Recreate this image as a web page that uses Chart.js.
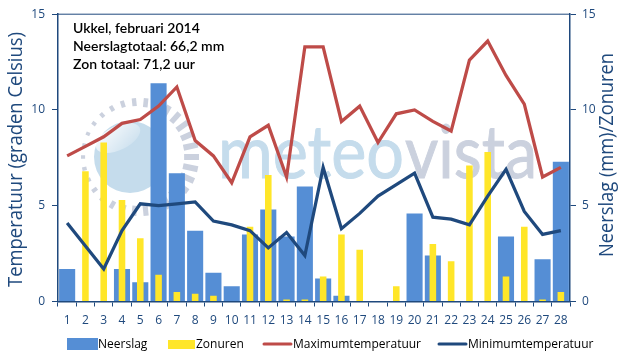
<!DOCTYPE html>
<html>
<head>
<meta charset="utf-8">
<title>Ukkel, februari 2014</title>
<script src="https://cdn.jsdelivr.net/npm/chart.js@4"></script>
<style>
  html, body { margin: 0; padding: 0; background: #fff; }
  #wrap { position: relative; width: 640px; height: 360px; }
</style>
</head>
<body>
<div id="wrap"><canvas id="grafiek" width="640" height="360"></canvas></div>
<script>
const dagen = [1,2,3,4,5,6,7,8,9,10,11,12,13,14,15,16,17,18,19,20,21,22,23,24,25,26,27,28];
const neerslag = [1.7,0,0,1.7,1.0,11.4,6.7,3.7,1.5,0.8,3.5,4.8,3.4,6.0,1.2,0.3,0,0,0,4.6,2.4,0,0,0,3.4,0,2.2,7.3];
const zonuren = [0,6.8,8.3,5.3,3.3,1.4,0.5,0.4,0.3,0,3.9,6.6,0.1,0.1,1.3,3.5,2.7,0,0.8,0,3.0,2.1,7.1,7.8,1.3,3.9,0.1,0.5];
const maxTemp = [7.6,8.1,8.6,9.3,9.5,10.2,11.2,8.4,7.6,6.2,8.6,9.2,6.5,13.3,13.3,9.4,10.2,8.3,9.8,10.0,9.4,8.9,12.6,13.6,11.8,10.3,6.5,7.0];
const minTemp = [4.1,2.9,1.7,3.7,5.1,5.0,5.1,5.2,4.2,4.0,3.7,2.8,3.6,2.4,7.0,3.8,4.6,5.5,6.1,6.7,4.4,4.3,4.0,5.5,6.9,4.7,3.5,3.7];
const infoRegels = ['Ukkel, februari 2014', 'Neerslagtotaal: 66,2 mm', 'Zon totaal: 71,2 uur'];

const navy = '#1F497D';
const blauw = '#558ED5';
const geel = '#FFE629';
const rood = '#BE4B48';
const tekstFont = '"Open Sans", sans-serif';

// tekst horizontaal samendrukken tot de gevraagde breedte
function tekstOpBreedte(ctx, tekst, breedte, lijn) {
  const gemeten = ctx.measureText(tekst).width;
  ctx.save();
  ctx.scale(breedte / gemeten, 1);
  if (lijn) {
    ctx.strokeStyle = ctx.fillStyle;
    ctx.lineWidth = lijn;
    ctx.strokeText(tekst, 0, 0);
  }
  ctx.fillText(tekst, 0, 0);
  ctx.restore();
}

// watermerk achter de grafiek: zon, stralenkrans en logotekst
const watermerk = {
  id: 'watermerk',
  beforeDatasetsDraw(chart) {
    const ctx = chart.ctx;
    ctx.save();
    ctx.fillStyle = '#C5DCEC';
    ctx.beginPath();
    ctx.arc(130, 157, 36, 0, Math.PI * 2);
    ctx.fill();
    const glans = ctx.createLinearGradient(105, 128, 135, 155);
    glans.addColorStop(0, 'rgba(255,255,255,0.85)');
    glans.addColorStop(1, 'rgba(255,255,255,0)');
    ctx.fillStyle = glans;
    ctx.beginPath();
    ctx.ellipse(118, 138, 24, 12, -0.45, 0, Math.PI * 2);
    ctx.fill();

    ctx.strokeStyle = '#CBD1DE';
    for (let hoek = 0; hoek < 360; hoek += 12) {
      const a = hoek * Math.PI / 180;
      const f = (1 + Math.cos(a - 0.2)) / 2;
      const lengte = 4 + 11 * f;
      const buiten = 59;
      ctx.lineWidth = 3.5 + 2.5 * f;
      ctx.beginPath();
      ctx.moveTo(140 + Math.cos(a) * buiten, 157 + Math.sin(a) * buiten);
      ctx.lineTo(140 + Math.cos(a) * (buiten - lengte), 157 + Math.sin(a) * (buiten - lengte));
      ctx.stroke();
    }

    ctx.font = '74px Lato, sans-serif';
    ctx.textBaseline = 'alphabetic';
    ctx.textAlign = 'left';
    ctx.fillStyle = '#C5DCEC';
    ctx.save();
    ctx.translate(218, 178);
    tekstOpBreedte(ctx, 'meteo', 186, 1);
    ctx.restore();
    ctx.fillStyle = '#CBD1DE';
    ctx.save();
    ctx.translate(405, 178);
    tekstOpBreedte(ctx, 'vista', 132, 1);
    ctx.restore();
    ctx.restore();
  }
};

// titels, infotekst en legenda op vaste plaatsen zoals in het origineel
const teksten = {
  id: 'teksten',
  afterDraw(chart) {
    const ctx = chart.ctx;
    const area = chart.chartArea;
    ctx.save();

    ctx.strokeStyle = navy;
    ctx.lineWidth = 1;
    ctx.beginPath();
    ctx.moveTo(area.left, area.top);
    ctx.lineTo(area.right, area.top);
    ctx.stroke();

    ctx.fillStyle = '#000';
    ctx.font = '600 14px Lato, sans-serif';
    ctx.textAlign = 'left';
    ctx.textBaseline = 'middle';
    infoRegels.forEach((regel, i) => ctx.fillText(regel, 73, 28 + i * 18));

    ctx.fillStyle = navy;
    ctx.font = '20px ' + tekstFont;
    ctx.textBaseline = 'alphabetic';
    [['Temperatuur (graden Celsius)', 22, 287, 255], ['Neerslag (mm)/Zonuren', 613, 257, 204]].forEach(([t, x, y, b]) => {
      ctx.save();
      ctx.translate(x, y);
      ctx.rotate(-Math.PI / 2);
      tekstOpBreedte(ctx, t, b);
      ctx.restore();
    });

    const ds = chart.data.datasets;
    ctx.font = '12px ' + tekstFont;
    ctx.textBaseline = 'middle';
    ctx.textAlign = 'left';
    ctx.fillStyle = '#000';
    ctx.fillText(ds[0].label, 98, 344.5);
    ctx.fillText(ds[1].label, 196, 344.5);
    ctx.fillText(ds[2].label, 293, 344.5);
    ctx.fillText(ds[3].label, 468, 344.5);

    ctx.fillStyle = blauw;
    ctx.fillRect(67, 338, 31, 12);
    ctx.fillStyle = geel;
    ctx.fillRect(168, 340, 27, 9);
    ctx.lineWidth = 3;
    ctx.lineCap = 'round';
    ctx.strokeStyle = rood;
    ctx.beginPath(); ctx.moveTo(264, 344); ctx.lineTo(291, 344); ctx.stroke();
    ctx.strokeStyle = navy;
    ctx.beginPath(); ctx.moveTo(439, 344); ctx.lineTo(466, 344); ctx.stroke();
    ctx.restore();
  }
};

new Chart(document.getElementById('grafiek'), {
  data: {
    labels: dagen,
    datasets: [
      { type: 'bar', label: 'Neerslag', data: neerslag, yAxisID: 'y1', backgroundColor: blauw,
        grouped: false, categoryPercentage: 1, barPercentage: 0.88, order: 4 },
      { type: 'bar', label: 'Zonuren', data: zonuren, yAxisID: 'y1', backgroundColor: geel,
        grouped: false, categoryPercentage: 1, barPercentage: 0.36, order: 3 },
      { type: 'line', label: 'Maximumtemperatuur', data: maxTemp, yAxisID: 'y', borderColor: rood,
        borderWidth: 3.25, pointRadius: 0, tension: 0, order: 2 },
      { type: 'line', label: 'Minimumtemperatuur', data: minTemp, yAxisID: 'y', borderColor: navy,
        borderWidth: 3.25, pointRadius: 0, tension: 0, order: 1 }
    ]
  },
  options: {
    responsive: false,
    animation: false,
    layout: { padding: { top: 10.5, left: 0, right: 0, bottom: 0 } },
    plugins: {
      legend: { display: false },
      tooltip: { enabled: false }
    },
    scales: {
      x: {
        offset: true,
        afterFit(scale) { scale.height = 58.5; },
        border: { color: navy, width: 1.5 },
        grid: { offset: true, drawOnChartArea: false, color: navy, tickLength: 5 },
        ticks: { color: navy, maxRotation: 0, autoSkip: false, padding: 7, font: { family: tekstFont, size: 12 } }
      },
      y: {
        position: 'left', min: 0, max: 15,
        afterFit(scale) { scale.width = 58; },
        border: { color: navy, width: 1.5 },
        grid: { drawOnChartArea: false, color: navy, tickLength: 6 },
        ticks: { stepSize: 5, color: navy, padding: 7, font: { family: tekstFont, size: 12 } }
      },
      y1: {
        position: 'right', min: 0, max: 15,
        afterFit(scale) { scale.width = 70; },
        border: { color: navy, width: 1.5 },
        grid: { drawOnChartArea: false, color: navy, tickLength: 6 },
        ticks: { stepSize: 5, color: navy, padding: 6, font: { family: tekstFont, size: 12 } }
      }
    }
  },
  plugins: [watermerk, teksten]
});
</script>
</body>
</html>
